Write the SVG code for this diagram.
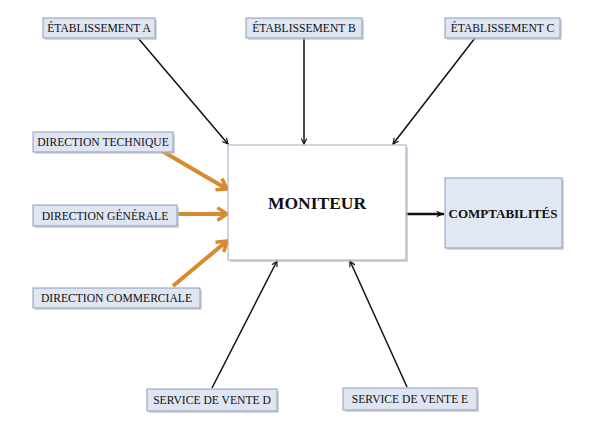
<svg xmlns="http://www.w3.org/2000/svg" width="600" height="423" viewBox="0 0 600 423">
<style>
.lbl{fill:#dfe5f1;stroke:#8d9cb8;stroke-width:1}
.sh{fill:#b9bcc4;opacity:0.6}
.t{font-family:"Liberation Serif","Times New Roman",serif;font-size:11.6px;fill:#111;text-anchor:middle}
.b{font-family:"Liberation Serif","Times New Roman",serif;font-weight:bold;fill:#111;text-anchor:middle}
.k{stroke:#111;stroke-width:1.5;fill:none}
.o{stroke:#d68b2e;stroke-width:4;fill:none}
</style>
<defs>
<marker id="ak" viewBox="0 0 10 10" refX="9" refY="5" markerWidth="7" markerHeight="7" markerUnits="userSpaceOnUse" orient="auto">
<path d="M1,1 L9,5 L1,9" fill="none" stroke="#111" stroke-width="1.6"/>
</marker>
<marker id="ab" viewBox="0 0 10 10" refX="9" refY="5" markerWidth="9" markerHeight="9" markerUnits="userSpaceOnUse" orient="auto">
<path d="M0,1 L9,5 L0,9 L3,5 Z" fill="#111"/>
</marker>
<marker id="ao" viewBox="0 0 10 10" refX="8" refY="5" markerWidth="16" markerHeight="16" markerUnits="userSpaceOnUse" orient="auto">
<path d="M2,1 L8,5 L2,9" fill="none" stroke="#d68b2e" stroke-width="2.2"/>
</marker>
</defs>
<rect width="600" height="423" fill="#fff"/>
<g id="connectors">
<line class="k" x1="138" y1="38" x2="228" y2="144" marker-end="url(#ak)"/>
<line class="k" x1="304" y1="38" x2="304" y2="144" marker-end="url(#ak)"/>
<line class="k" x1="475" y1="38" x2="393" y2="144" marker-end="url(#ak)"/>
<line class="k" x1="212" y1="388" x2="277" y2="261" marker-end="url(#ak)"/>
<line class="k" x1="407" y1="387" x2="350" y2="261" marker-end="url(#ak)"/>
<line x1="406" y1="214" x2="444" y2="214" stroke="#111" stroke-width="2.5" marker-end="url(#ab)"/>
<line class="o" x1="162" y1="151" x2="227" y2="189" marker-end="url(#ao)"/>
<line class="o" x1="178" y1="214" x2="227" y2="214" marker-end="url(#ao)"/>
<line class="o" x1="173" y1="286" x2="227" y2="241" marker-end="url(#ao)"/>
</g>
<g id="etab-a"><rect class="sh" x="45" y="20" width="112" height="20"/><rect class="lbl" x="43" y="18" width="112" height="20"/><text class="t" x="99" y="32">ÉTABLISSEMENT A</text></g>
<g id="etab-b"><rect class="sh" x="248" y="20" width="116" height="20"/><rect class="lbl" x="246" y="18" width="116" height="20"/><text class="t" x="304" y="32">ÉTABLISSEMENT B</text></g>
<g id="etab-c"><rect class="sh" x="447" y="20" width="115" height="20"/><rect class="lbl" x="445" y="18" width="115" height="20"/><text class="t" x="502.5" y="32">ÉTABLISSEMENT C</text></g>
<g id="dir-tech"><rect class="sh" x="35" y="134" width="140" height="20"/><rect class="lbl" x="33" y="132" width="140" height="20"/><text class="t" x="103" y="146">DIRECTION TECHNIQUE</text></g>
<g id="dir-gen"><rect class="sh" x="35" y="207" width="144" height="21"/><rect class="lbl" x="33" y="205" width="144" height="21"/><text class="t" x="105" y="219.5">DIRECTION GÉNÉRALE</text></g>
<g id="dir-com"><rect class="sh" x="35" y="290" width="167" height="20"/><rect class="lbl" x="33" y="288" width="167" height="20"/><text class="t" x="116.5" y="302">DIRECTION COMMERCIALE</text></g>
<g id="moniteur"><rect class="sh" x="230" y="147" width="178" height="115"/><rect x="228" y="145" width="178" height="115" fill="#fff" stroke="#9eabc4" stroke-width="1"/><text class="b" x="317" y="209" font-size="17.5px">MONITEUR</text></g>
<g id="compta"><rect class="sh" x="447" y="180" width="117" height="70"/><rect x="445" y="178" width="117" height="70" fill="#e1e7f3" stroke="#8d9cb8" stroke-width="1"/><text class="b" x="503" y="218" font-size="13px">COMPTABILITÉS</text></g>
<g id="vente-d"><rect class="sh" x="149" y="391" width="130" height="22"/><rect class="lbl" x="147" y="389" width="130" height="22"/><text class="t" x="212" y="404">SERVICE DE VENTE D</text></g>
<g id="vente-e"><rect class="sh" x="345" y="390" width="134" height="22"/><rect class="lbl" x="343" y="388" width="134" height="22"/><text class="t" x="410" y="403">SERVICE DE VENTE E</text></g>
</svg>
